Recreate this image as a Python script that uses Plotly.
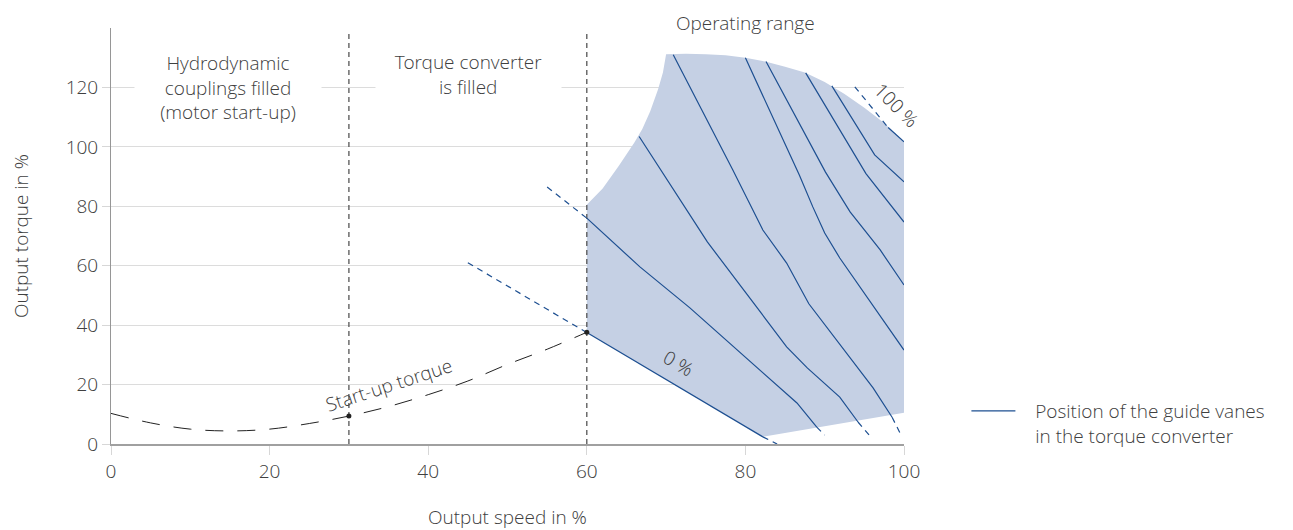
import plotly.graph_objects as go

# ---------------- data ----------------
x_ticks = [0, 20, 40, 60, 80, 100]
y_ticks = [0, 20, 40, 60, 80, 100, 120]

startup_speed = [0, 5, 10, 15, 20, 25, 30, 35, 40, 45, 50, 55, 60]
startup_torque = [10.3, 7.1, 5.0, 4.4, 5.0, 6.9, 9.4, 12.6, 16.6, 21.2, 26.8, 31.9, 37.6]

range_speed = [60, 60, 62, 64, 66, 67, 68, 69, 69.6, 70, 72.5, 75, 77.5, 80, 82.5, 85,
               87.5, 90, 92.5, 95, 97.5, 100, 100, 82.2]
range_torque = [37.5, 80.5, 86, 93.5, 101.5, 106, 112, 119.5, 125, 131.2, 131.3, 131.2,
                130.8, 130, 128.7, 127, 125, 121.8, 117.8, 113.2, 108, 101.7, 10.5, 2.4]

vane0_x, vane0_y = [60, 82.2], [37.5, 2.4]
vane1_x, vane1_y = [60, 66.7, 73, 78, 82.7, 86.5, 89], [76, 59.6, 45.8, 34, 22.6, 13.8, 5.7]
vane2_x = [66.6, 69.5, 75.2, 81.5, 85.2, 87.8, 91.9, 94.2]
vane2_y = [103.5, 91.5, 68, 45.8, 32.7, 25.6, 15.8, 7.4]
vane3_x = [70.9, 78.4, 82.2, 85.2, 88, 90.7, 93.5, 96.1, 98.5]
vane3_y = [131, 92.3, 72, 60.9, 47.2, 37.7, 28, 18.9, 9]
vane4_x = [80, 83.5, 86.8, 88.5, 90, 91.9, 95.8, 100]
vane4_y = [130, 109.5, 90.5, 79.8, 71, 62.6, 47.5, 31.6]
vane5_x, vane5_y = [82.6, 86.4, 90.1, 93.2, 97, 100], [128.7, 110, 91.5, 78.1, 65.3, 53.5]
vane6_x, vane6_y = [87.6, 91.4, 95.2, 100], [124.9, 108, 91, 74.7]
vane7_x, vane7_y = [90.9, 96.3, 100], [120.5, 97.3, 88.2]
vane8_x, vane8_y = [98, 100], [106.5, 101.7]

ext0a_x, ext0a_y = [45, 60], [61, 37.5]
ext0b_x, ext0b_y = [82.2, 84], [2.4, 0]
ext1a_x, ext1a_y = [55, 60], [86.5, 76]
ext1b_x, ext1b_y = [89, 90], [5.7, 3]
ext2b_x, ext2b_y = [94.2, 95.6], [7.4, 3]
ext3b_x, ext3b_y = [98.5, 99.5], [9, 3.7]
ext8_x, ext8_y = [93.8, 98], [120.2, 106.5]

boundary_speeds = [30, 60]
boundary_top = 139
marker_speed = [30, 60]
marker_torque = [9.4, 37.6]

# ---------------- styles ----------------
FONT = "Open Sans Light, Open Sans"
TXT = "#404040"
BLUE = "#1d4f91"
FILL = "rgb(197,208,228)"
FS = 19

fig = go.Figure()

fig.add_trace(go.Scatter(x=range_speed, y=range_torque, fill="toself", fillcolor=FILL,
                         mode="lines", line=dict(width=0), hoverinfo="skip", showlegend=False))

for bx in boundary_speeds:
    fig.add_trace(go.Scatter(x=[bx, bx], y=[0, boundary_top], mode="lines",
                             line=dict(color="#555555", width=1.3, dash="5px,4px"),
                             showlegend=False))

fig.add_trace(go.Scatter(x=startup_speed, y=startup_torque, mode="lines",
                         line=dict(color="#222222", width=1, dash="18px,14px", shape="spline"),
                         showlegend=False))

legend_name = ("&nbsp;&nbsp;&nbsp;Position of the guide vanes<br>"
               "&nbsp;&nbsp;&nbsp;in the torque converter")
solids = [(vane0_x, vane0_y), (vane1_x, vane1_y), (vane2_x, vane2_y), (vane3_x, vane3_y),
          (vane4_x, vane4_y), (vane5_x, vane5_y), (vane6_x, vane6_y), (vane7_x, vane7_y),
          (vane8_x, vane8_y)]
for i, (vx, vy) in enumerate(solids):
    fig.add_trace(go.Scatter(x=vx, y=vy, mode="lines", line=dict(color=BLUE, width=1.2),
                             name=legend_name, legendgroup="vanes", showlegend=(i == 0)))

dashes = [(ext0a_x, ext0a_y), (ext0b_x, ext0b_y), (ext1a_x, ext1a_y), (ext1b_x, ext1b_y),
          (ext2b_x, ext2b_y), (ext3b_x, ext3b_y), (ext8_x, ext8_y)]
for vx, vy in dashes:
    fig.add_trace(go.Scatter(x=vx, y=vy, mode="lines",
                             line=dict(color=BLUE, width=1.2, dash="6px,5px"),
                             legendgroup="vanes", showlegend=False))

fig.add_trace(go.Scatter(x=marker_speed, y=marker_torque, mode="markers",
                         marker=dict(color="#222222", size=5), showlegend=False))

ann_font = dict(family=FONT, size=FS, color=TXT, weight=300)
fig.add_annotation(x=14.75, y=120, text="Hydrodynamic<br>couplings filled<br>(motor start-up)",
                   showarrow=False, font=ann_font, bgcolor="white", width=186, borderpad=0)
fig.add_annotation(x=45.1, y=124.4, text="Torque converter<br>is filled",
                   showarrow=False, font=ann_font, bgcolor="white", width=185, borderpad=0)
fig.add_annotation(x=80, y=1.0125, yref="paper", yanchor="middle", text="Operating range",
                   showarrow=False, font=ann_font)
fig.add_annotation(x=35, y=20, text="Start-up torque", showarrow=False, font=ann_font,
                   textangle=-18)
fig.add_annotation(x=71.5, y=27.3, text="0 %", showarrow=False, font=ann_font, textangle=30)
fig.add_annotation(x=99.0, y=114, text="100 %", showarrow=False, font=ann_font, textangle=45)

axis_font = dict(family=FONT, size=FS, color=TXT, weight=300)
# the page body adds an 8px offset, so the figure is 8px smaller than the window
fig.update_layout(
    width=1285, height=522,
    margin=dict(l=103, r=389, t=20, b=86, autoexpand=False),
    plot_bgcolor="white", paper_bgcolor="white",
    font=axis_font,
    legend=dict(x=1.0787, y=0.125, xanchor="left", yanchor="top", valign="top",
                font=axis_font, itemwidth=44, bgcolor="rgba(0,0,0,0)"),
    xaxis=dict(range=[0, 100], tickvals=x_ticks, showgrid=False, zeroline=False,
               automargin=False,
               showline=True, linecolor="rgb(160,160,160)", linewidth=2,
               ticks="outside", ticklen=9, tickcolor="rgb(215,215,215)",
               title=dict(text="Output speed in %", standoff=33, font=axis_font),
               tickfont=axis_font),
    yaxis=dict(range=[0, 140], tickvals=y_ticks, showgrid=True, gridcolor="rgb(220,220,220)",
               zeroline=False, automargin=False,
               showline=True, linecolor="rgb(150,150,150)", linewidth=1,
               ticks="outside", ticklen=8, tickcolor="rgb(215,215,215)",
               title=dict(text="Output torque in %", standoff=39, font=axis_font),
               tickfont=axis_font),
)

fig.write_html("out.html")
